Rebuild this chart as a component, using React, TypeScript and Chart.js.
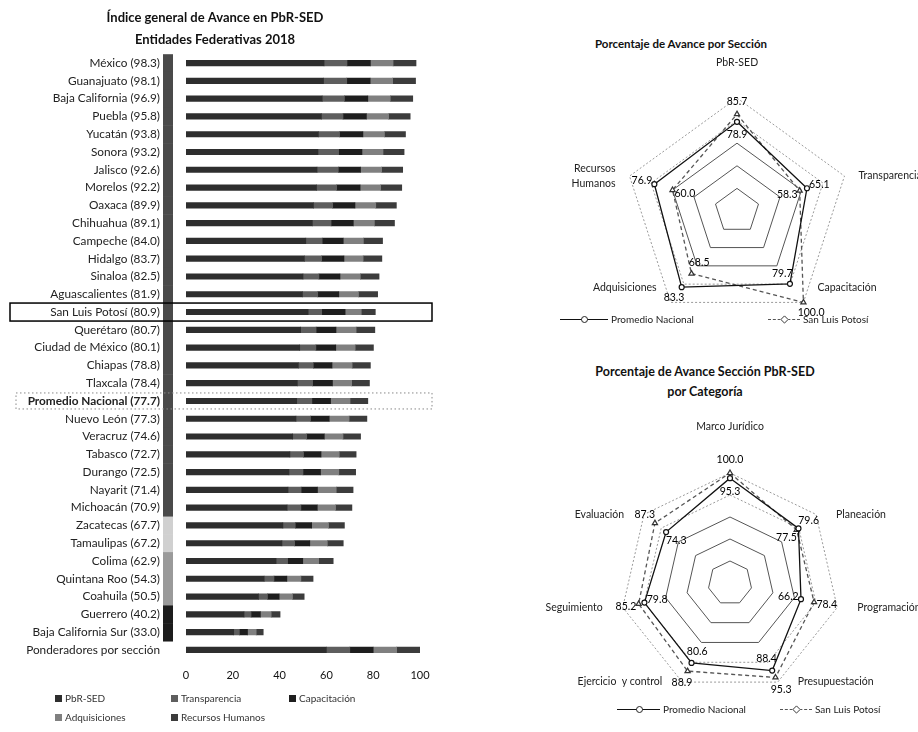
import React, { useEffect, useRef } from 'react';
import { Chart, registerables } from 'chart.js';
Chart.register(...registerables);

const FONT = 'Lato, "Open Sans", "DejaVu Sans", sans-serif';

// ---------- Left chart: Índice general de Avance ----------
const entidades = [
  'México (98.3)', 'Guanajuato (98.1)', 'Baja California (96.9)', 'Puebla (95.8)', 'Yucatán (93.8)',
  'Sonora (93.2)', 'Jalisco (92.6)', 'Morelos (92.2)', 'Oaxaca (89.9)', 'Chihuahua (89.1)',
  'Campeche (84.0)', 'Hidalgo (83.7)', 'Sinaloa (82.5)', 'Aguascalientes (81.9)', 'San Luis Potosí (80.9)',
  'Querétaro (80.7)', 'Ciudad de México (80.1)', 'Chiapas (78.8)', 'Tlaxcala (78.4)', 'Promedio Nacional (77.7)',
  'Nuevo León (77.3)', 'Veracruz (74.6)', 'Tabasco (72.7)', 'Durango (72.5)', 'Nayarit (71.4)',
  'Michoacán (70.9)', 'Zacatecas (67.7)', 'Tamaulipas (67.2)', 'Colima (62.9)', 'Quintana Roo (54.3)',
  'Coahuila (50.5)', 'Guerrero (40.2)', 'Baja California Sur (33.0)', 'Ponderadores por sección',
];
const pbrSed = [59.0, 58.8, 58.2, 57.9, 56.6, 56.4, 56.0, 55.8, 54.5, 54.0, 51.2, 50.6, 50.0, 49.8, 52.2, 49.0, 48.6, 48.0, 47.6, 47.3, 47.0, 45.6, 44.4, 44.0, 43.6, 43.2, 41.4, 41.0, 38.5, 33.4, 31.0, 24.8, 20.4, 60.0];
const transparencia = [9.8, 9.9, 9.5, 9.2, 9.0, 8.8, 9.1, 8.6, 8.2, 8.0, 7.0, 7.4, 6.8, 6.5, 5.8, 6.6, 6.9, 6.4, 6.5, 6.5, 6.2, 6.0, 5.8, 6.0, 5.6, 5.9, 5.3, 5.4, 4.9, 4.2, 3.8, 3.0, 2.4, 10.0];
const capacitacion = [10.0, 10.0, 10.0, 10.0, 10.0, 10.0, 9.5, 10.0, 9.5, 9.5, 9.0, 9.5, 9.0, 9.0, 10.0, 8.5, 8.5, 8.0, 8.5, 8.0, 8.0, 7.5, 7.5, 7.5, 7.0, 7.0, 7.0, 6.5, 6.5, 5.5, 5.0, 4.0, 3.5, 10.0];
const adquisiciones = [9.7, 9.6, 9.6, 9.5, 9.2, 9.0, 9.0, 8.8, 8.9, 9.0, 8.6, 8.2, 8.7, 8.4, 6.9, 8.6, 8.3, 8.6, 8.2, 8.3, 8.5, 8.0, 7.8, 7.8, 8.0, 7.8, 7.2, 7.5, 6.8, 6.0, 5.7, 4.6, 3.7, 10.0];
const recursosHumanos = [9.8, 9.8, 9.6, 9.2, 9.0, 9.0, 9.0, 9.0, 8.8, 8.6, 8.2, 8.0, 8.0, 8.2, 6.0, 8.0, 7.8, 7.8, 7.6, 7.6, 7.6, 7.5, 7.2, 7.2, 7.2, 7.0, 6.8, 6.8, 6.2, 5.2, 5.0, 3.8, 3.0, 10.0];
const seccionesNombres = ['PbR-SED', 'Transparencia', 'Capacitación', 'Adquisiciones', 'Recursos Humanos'];
const semaforo = [
  'alto', 'alto', 'alto', 'alto', 'alto', 'alto', 'alto', 'alto', 'alto', 'alto',
  'alto', 'alto', 'alto', 'alto', 'alto', 'alto', 'alto', 'alto', 'alto', 'alto',
  'alto', 'alto', 'alto', 'alto', 'alto', 'alto', 'medio', 'medio', 'bajo', 'bajo',
  'bajo', 'critico', 'critico', null,
];
const xTickValues = [0, 20, 40, 60, 80, 100];

// ---------- Radar 1: Porcentaje de Avance por Sección ----------
const seccionesRadar = ['PbR-SED', 'Transparencia', 'Capacitación', 'Adquisiciones', ['Recursos', 'Humanos']];
const seccionNacional = [78.9, 65.1, 79.7, 83.3, 76.9];
const seccionSLP = [85.7, 58.3, 100.0, 68.5, 60.0];

// ---------- Radar 2: Porcentaje de Avance Sección PbR-SED por Categoría ----------
const categoriasRadar = ['Marco Jurídico', 'Planeación', 'Programación', 'Presupuestación', 'Ejercicio  y control', 'Seguimiento', 'Evaluación'];
const categoriaNacional = [95.3, 79.6, 66.2, 88.4, 80.6, 79.8, 74.3];
const categoriaSLP = [100.0, 77.5, 78.4, 95.3, 88.9, 85.2, 87.3];

const barColors = ['#2e2e2e', '#5e5e5e', '#1e1e1e', '#808080', '#3c3c3c'];
const semaforoColores: Record<string, string> = { alto: '#4a4a4a', medio: '#d0d0d0', bajo: '#9a9a9a', critico: '#1c1c1c' };

const slpIdx = entidades.findIndex((e) => e.startsWith('San Luis'));
const promIdx = entidades.findIndex((e) => e.startsWith('Promedio'));

const semaforoPlugin = {
  id: 'semaforo',
  beforeDatasetsDraw(chart: any) {
    const y = chart.scales.y;
    const { ctx, chartArea } = chart;
    const step = (y.bottom - y.top) / entidades.length;
    ctx.save();
    semaforo.forEach((nivel, i) => {
      if (!nivel) return;
      const yc = y.getPixelForValue(i);
      ctx.fillStyle = semaforoColores[nivel];
      ctx.fillRect(chartArea.left - 23, yc - step / 2, 10, step + 0.5);
    });
    ctx.restore();
  },
};

const highlightPlugin = {
  id: 'highlight',
  afterDraw(chart: any) {
    const y = chart.scales.y;
    const { ctx, chartArea } = chart;
    ctx.save();
    const ys = y.getPixelForValue(slpIdx);
    ctx.strokeStyle = '#000';
    ctx.lineWidth = 1.5;
    ctx.strokeRect(10, ys - 9, chartArea.right + 12 - 10, 18);
    const yp = y.getPixelForValue(promIdx);
    ctx.setLineDash([1.5, 2.5]);
    ctx.lineWidth = 1;
    ctx.strokeStyle = '#888';
    ctx.strokeRect(16, yp - 8, chartArea.right + 12 - 16, 16);
    ctx.restore();
  },
};

function BarChart() {
  const ref = useRef<HTMLCanvasElement>(null);
  useEffect(() => {
    const segs = [pbrSed, transparencia, capacitacion, adquisiciones, recursosHumanos];
    const chart = new Chart(ref.current as HTMLCanvasElement, {
      type: 'bar',
      data: {
        labels: entidades,
        datasets: segs.map((d, k) => ({
          label: seccionesNombres[k],
          data: d,
          backgroundColor: barColors[k],
          borderWidth: 0,
          barThickness: 5.5,
          stack: 'total',
        })),
      },
      options: {
        indexAxis: 'y',
        responsive: false,
        animation: false,
        layout: { padding: { left: 10, right: 40, top: 0, bottom: 8 } },
        plugins: {
          legend: { display: false },
          tooltip: { enabled: false },
          title: {
            display: true,
            text: ['Índice general de Avance en PbR-SED', 'Entidades Federativas 2018'],
            font: { family: FONT, size: 13, weight: 'bold', lineHeight: 1.7 },
            color: '#111',
            padding: { top: 7, bottom: 3 },
          },
        },
        scales: {
          x: {
            stacked: true,
            min: 0,
            max: 100,
            afterBuildTicks: (s: any) => { s.ticks = xTickValues.map((v) => ({ value: v })); },
            ticks: { font: { family: FONT, size: 11 }, color: '#111', padding: 10 },
            grid: { display: false, drawTicks: false },
            border: { display: false },
          },
          y: {
            stacked: true,
            ticks: {
              autoSkip: false,
              padding: 26,
              color: '#222',
              font: (c: any) => ({ family: FONT, size: 11.8, weight: c.index === promIdx ? 'bold' : 'normal' }),
            },
            grid: { display: false, drawTicks: false },
            border: { display: false },
            afterFit: (s: any) => { s.width = 176; },
          },
        },
      } as any,
      plugins: [semaforoPlugin, highlightPlugin],
    });
    return () => chart.destroy();
  }, []);
  return <canvas ref={ref} width={460} height={700} style={{ position: 'absolute', left: 0, top: 0, width: 460, height: 700 }} />;
}

const radarCategoryLabels = {
  id: 'radarCategoryLabels',
  afterDraw(chart: any, _a: any, opts: any) {
    const s = chart.scales.r;
    const ctx = chart.ctx;
    ctx.save();
    ctx.font = `${opts.size}px ${FONT}`;
    ctx.fillStyle = '#222';
    ctx.textBaseline = 'middle';
    chart.data.labels.forEach((lab: any, i: number) => {
      const p = s.getPointPosition(i, s.drawingArea);
      const lines = Array.isArray(lab) ? lab : [lab];
      const dx = p.x - s.xCenter;
      const lower = p.y - s.yCenter > s.drawingArea * 0.5;
      let x = p.x;
      let y = p.y + (lower ? opts.lowerDy : 0);
      if (Math.abs(dx) < 2) { ctx.textAlign = 'center'; y = p.y - opts.topGap; }
      else if (dx > 0) { ctx.textAlign = 'left'; x = p.x + opts.sideGap; }
      else { ctx.textAlign = 'right'; x = p.x - opts.sideGap; }
      const lh = opts.size * 1.5;
      lines.forEach((ln: string, k: number) => ctx.fillText(ln, x, y + (k - (lines.length - 1) / 2) * lh));
    });
    ctx.restore();
  },
};

const radarValueLabels = {
  id: 'radarValueLabels',
  afterDatasetsDraw(chart: any) {
    const s = chart.scales.r;
    const ctx = chart.ctx;
    const ds = chart.data.datasets;
    ctx.save();
    ctx.font = `10.5px ${FONT}`;
    ctx.fillStyle = '#000';
    ctx.textAlign = 'center';
    ctx.textBaseline = 'middle';
    ds.forEach((d: any, di: number) => {
      d.data.forEach((v: number, i: number) => {
        const other = ds[1 - di].data[i];
        const dir = v > other || (v === other && di === 1) ? 1 : -1;
        const pos = s.getPointPosition(i, s.getDistanceFromCenterForValue(v) + dir * 13);
        ctx.fillText(v.toFixed(1), pos.x, pos.y);
      });
    });
    ctx.restore();
  },
};

type RadarProps = {
  labels: any[];
  nacional: number[];
  slp: number[];
  left: number; top: number; width: number; height: number;
  padding: { left: number; right: number; top: number; bottom: number };
  topGap: number; sideGap: number; lowerDy: number;
};

function RadarChart(p: RadarProps) {
  const ref = useRef<HTMLCanvasElement>(null);
  useEffect(() => {
    const chart = new Chart(ref.current as HTMLCanvasElement, {
      type: 'radar',
      data: {
        labels: p.labels,
        datasets: [
          {
            label: 'Promedio Nacional', data: p.nacional, borderColor: '#111', borderWidth: 1.3, fill: false,
            pointStyle: 'circle', pointRadius: 2.5, pointBackgroundColor: '#fff', pointBorderColor: '#111', pointBorderWidth: 1.2,
          },
          {
            label: 'San Luis Potosí', data: p.slp, borderColor: '#555', borderDash: [4, 3], borderWidth: 1.3, fill: false,
            pointStyle: 'triangle', pointRadius: 3, pointBackgroundColor: '#fff', pointBorderColor: '#333', pointBorderWidth: 1.2,
          },
        ],
      },
      options: {
        responsive: false,
        animation: false,
        layout: { padding: p.padding },
        elements: { line: { tension: 0 } },
        plugins: {
          legend: { display: false },
          tooltip: { enabled: false },
          radarCategoryLabels: { size: 10.5, topGap: p.topGap, sideGap: p.sideGap, lowerDy: p.lowerDy },
        },
        scales: {
          r: {
            min: 0,
            max: 100,
            ticks: { display: false, stepSize: 20 },
            angleLines: { display: false },
            pointLabels: { display: false },
            grid: { color: (c: any) => (c.tick && c.tick.value >= 80 ? '#9a9a9a' : '#555'), lineWidth: 1 },
            border: { dash: (c: any) => (c.tick && c.tick.value >= 80 ? [2, 2] : []) },
          },
        },
      } as any,
      plugins: [radarCategoryLabels, radarValueLabels],
    });
    return () => chart.destroy();
  }, []);
  return (
    <canvas ref={ref} width={p.width} height={p.height}
      style={{ position: 'absolute', left: p.left, top: p.top, width: p.width, height: p.height }} />
  );
}

function LineKey({ x, y, len, dashed, marker, text }: { x: number; y: number; len: number; dashed: boolean; marker: string; text: string }) {
  return (
    <div style={{ position: 'absolute', left: x, top: y - 7, height: 14, display: 'flex', alignItems: 'center', whiteSpace: 'nowrap' }}>
      <span style={{ position: 'relative', display: 'inline-block', width: len, height: 0, borderTop: dashed ? '1.3px dashed #555' : '1.3px solid #111' }}>
        <span style={{
          position: 'absolute', left: len / 2 - 3, top: -4, width: 5, height: 5, background: '#fff',
          border: '1.2px solid #222', borderRadius: marker === 'circle' ? '50%' : 0,
          transform: marker === 'circle' ? 'none' : 'rotate(45deg) scale(0.85)',
        }} />
      </span>
      <span style={{ marginLeft: 3, font: `10px ${FONT}`, color: '#222' }}>{text}</span>
    </div>
  );
}

function BarLegend() {
  const item = (k: number) => (
    <div key={k} style={{ display: 'flex', alignItems: 'center', whiteSpace: 'nowrap' }}>
      <span style={{ display: 'inline-block', width: 7, height: 7, background: barColors[k], marginRight: 3 }} />
      <span style={{ font: `10px ${FONT}`, color: '#333' }}>{seccionesNombres[k]}</span>
    </div>
  );
  return (
    <div style={{ position: 'absolute', left: 55, top: 692, display: 'grid', gridTemplateColumns: '116px 118px 110px', rowGap: 7 }}>
      {[0, 1, 2, 3, 4].map(item)}
    </div>
  );
}

export default function App() {
  return (
    <div style={{ position: 'absolute', left: 0, top: 0, width: 918, height: 732, overflow: 'hidden', background: '#fff' }}>
      <BarChart />
      <BarLegend />
      <div style={{ position: 'absolute', left: 460, width: 458, top: 37, textAlign: 'center', font: `bold 11.5px ${FONT}`, color: '#111' }}>
        <span style={{ position: 'relative', left: -8 }}>Porcentaje de Avance por Sección</span>
      </div>
      <RadarChart labels={seccionesRadar} nacional={seccionNacional} slp={seccionSLP}
        left={460} top={28} width={458} height={300}
        padding={{ left: 164, right: 68, top: 70, bottom: 4 }} topGap={35} sideGap={14} lowerDy={-15} />
      <LineKey x={560} y={319} len={48} dashed={false} marker="circle" text="Promedio Nacional" />
      <LineKey x={768} y={319} len={32} dashed={true} marker="diamond" text="San Luis Potosí" />
      <div style={{ position: 'absolute', left: 560, width: 290, top: 362, textAlign: 'center', font: `bold 12.5px ${FONT}`, color: '#111', lineHeight: '20px' }}>
        Porcentaje de Avance Sección PbR-SED<br />por Categoría
      </div>
      <RadarChart labels={categoriasRadar} nacional={categoriaNacional} slp={categoriaSLP}
        left={460} top={400} width={458} height={300}
        padding={{ left: 160, right: 78, top: 73, bottom: 7 }} topGap={46} sideGap={20} lowerDy={0} />
      <LineKey x={617} y={709} len={43} dashed={false} marker="circle" text="Promedio Nacional" />
      <LineKey x={780} y={709} len={32} dashed={true} marker="diamond" text="San Luis Potosí" />
    </div>
  );
}
